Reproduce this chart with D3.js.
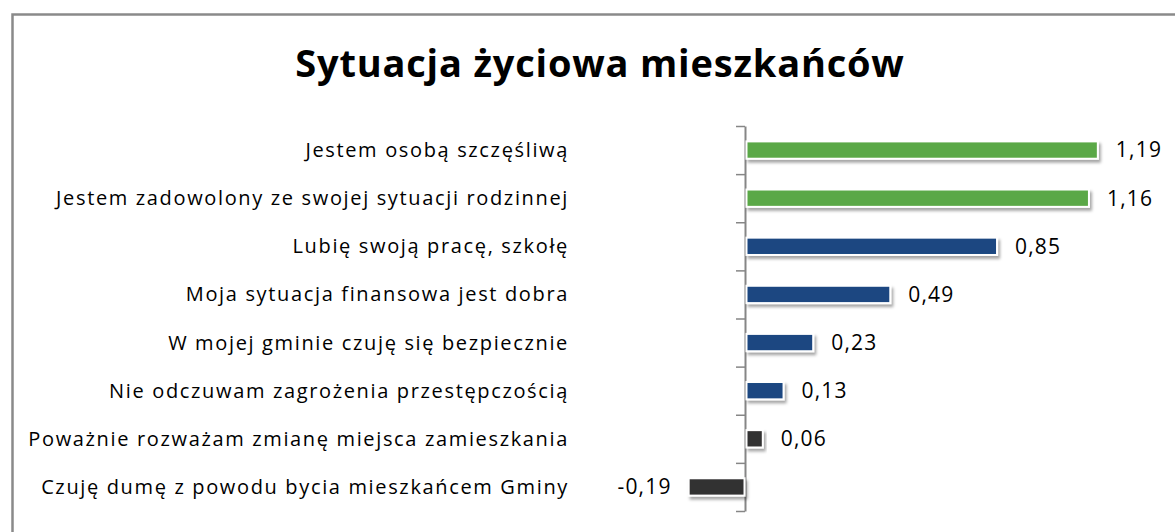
<!DOCTYPE html>
<html>
<head>
<meta charset="utf-8">
<script src="https://cdn.jsdelivr.net/npm/d3@7"></script>
<style>
  html, body { margin: 0; padding: 0; background: #fff; }
  svg { display: block; }
</style>
</head>
<body>
<svg id="chart" width="1175" height="532"></svg>
<script>
// Survey answers: mean agreement score per statement
const categories = [
  "Jestem osobą szczęśliwą",
  "Jestem zadowolony ze swojej sytuacji rodzinnej",
  "Lubię swoją pracę, szkołę",
  "Moja sytuacja finansowa jest dobra",
  "W mojej gminie czuję się bezpiecznie",
  "Nie odczuwam zagrożenia przestępczością",
  "Poważnie rozważam zmianę miejsca zamieszkania",
  "Czuję dumę z powodu bycia mieszkańcem Gminy"
];
const values = [1.19, 1.16, 0.85, 0.49, 0.23, 0.13, 0.06, -0.19];
const groups = ["high", "high", "mid", "mid", "mid", "mid", "low", "low"];
const title = "Sytuacja życiowa mieszkańców";

const W = 1175, H = 532;
const svg = d3.select("#chart");

const colour = d3.scaleOrdinal()
  .domain(["high", "mid", "low"])
  .range(["#5aa846", "#1a4781", "#333132"]);

// drop shadow under each bar
const defs = svg.append("defs");
const f = defs.append("filter").attr("id", "shadow")
  .attr("x", "-20%").attr("y", "-60%").attr("width", "140%").attr("height", "220%");
f.append("feDropShadow")
  .attr("dx", 2).attr("dy", 3).attr("stdDeviation", 1.6)
  .attr("flood-color", "#000").attr("flood-opacity", 0.35);

// chart frame
svg.append("path")
  .attr("d", `M12.5,${H} V14.5 H${W}`)
  .attr("fill", "none").attr("stroke", "#8a8a8a").attr("stroke-width", 2.5);

// title
svg.append("text")
  .attr("x", 600).attr("y", 77)
  .attr("text-anchor", "middle")
  .attr("font-family", "'Open Sans', sans-serif")
  .attr("font-weight", "bold")
  .attr("font-size", 38)
  .attr("letter-spacing", 0.8)
  .attr("fill", "#000")
  .text(title);

// scales
const zeroX = 745, unit = 296.5;
const x = d3.scaleLinear().domain([-0.4, 1.4]).range([zeroX - 0.4 * unit, zeroX + 1.4 * unit]);
const plotTop = 126, plotBottom = 511;
const y = d3.scaleBand().domain(categories).range([plotTop, plotBottom])
  .paddingInner(0.64).paddingOuter(0.32);
const yEdge = d3.scaleLinear().domain([0, categories.length]).range([plotTop, plotBottom]);

// vertical axis with ticks between categories
const axisG = svg.append("g")
  .attr("transform", `translate(${x(0)},0)`)
  .call(d3.axisLeft(yEdge).tickValues(d3.range(categories.length + 1))
    .tickSize(9).tickSizeOuter(0).tickFormat(""));
axisG.select(".domain").attr("stroke", "#868686").attr("stroke-width", 2);
axisG.selectAll(".tick line").attr("stroke", "#868686").attr("stroke-width", 1.5);

// bars
svg.append("g").selectAll("rect")
  .data(values)
  .join("rect")
  .attr("x", d => x(Math.min(0, d)) + (d >= 0 ? 1.5 : 0))
  .attr("y", (d, i) => y(categories[i]))
  .attr("width", d => Math.abs(x(d) - x(0)) - (d >= 0 ? 1.5 : 0.5))
  .attr("height", y.bandwidth())
  .attr("fill", (d, i) => colour(groups[i]))
  .attr("stroke", "#fff").attr("stroke-width", 2)
  .attr("filter", "url(#shadow)");

// category labels
const catFont = "'Open Sans', sans-serif";
svg.append("g").selectAll("text")
  .data(categories)
  .join("text")
  .attr("x", 569)
  .attr("y", d => y(d) + y.bandwidth() / 2)
  .attr("dy", "0.35em")
  .attr("text-anchor", "end")
  .attr("font-family", catFont)
  .attr("font-size", 20)
  .attr("letter-spacing", 1.65)
  .attr("fill", "#000")
  .text(d => d);

// value labels
const fmt = d => d3.format(".2f")(d).replace(".", ",").replace("\u2212", "-");
svg.append("g").selectAll("text")
  .data(values)
  .join("text")
  .attr("x", d => d >= 0 ? x(d) + 18 : x(d) - 17)
  .attr("y", (d, i) => y(categories[i]) + y.bandwidth() / 2)
  .attr("dy", "0.35em")
  .attr("text-anchor", d => d >= 0 ? "start" : "end")
  .attr("font-family", catFont)
  .attr("font-size", 21)
  .attr("letter-spacing", 1.2)
  .attr("fill", "#000")
  .text(fmt);
</script>
</body>
</html>
